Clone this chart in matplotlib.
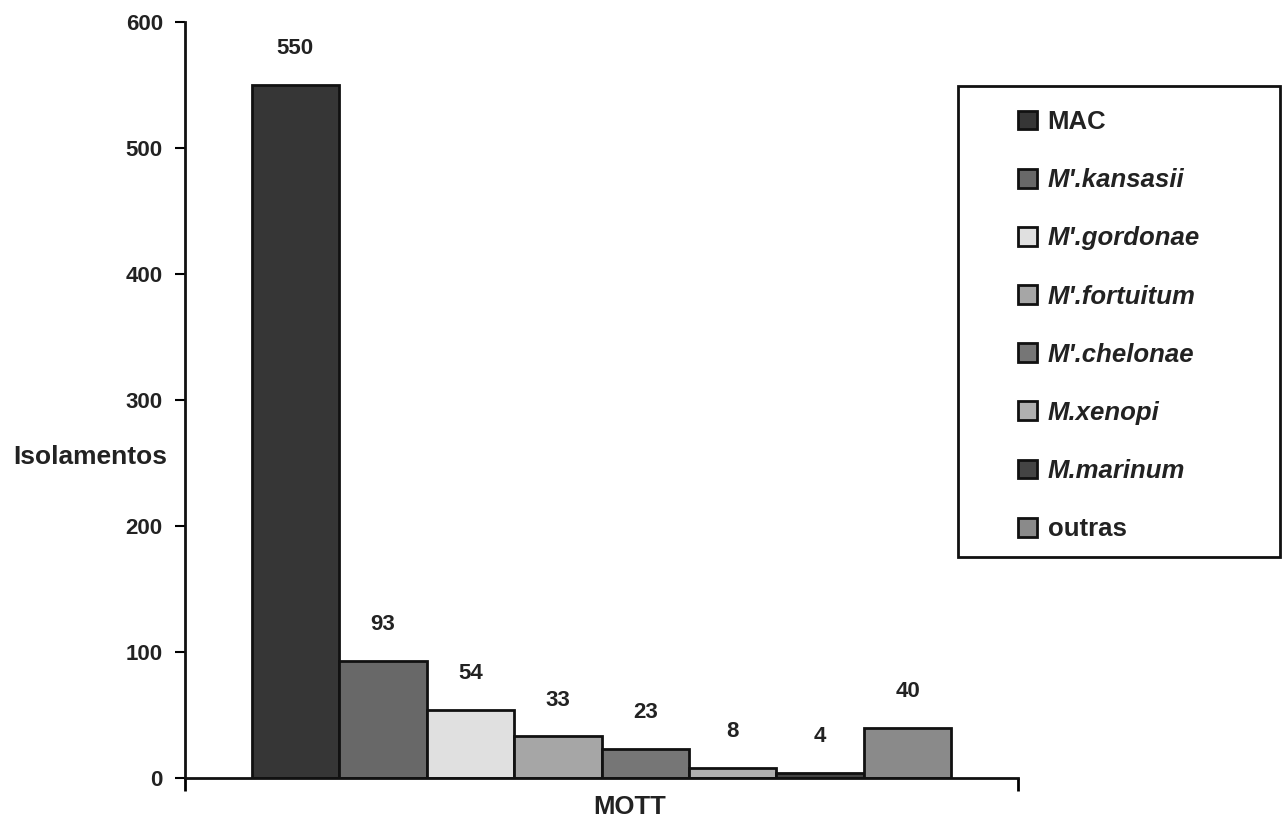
import matplotlib
matplotlib.use("Agg")
import matplotlib.pyplot as plt
from matplotlib.patches import Rectangle
import numpy as np

plt.rcParams['font.family'] = ['Liberation Sans', 'DejaVu Sans']

species = ["MAC", "M'.kansasii", "M'.gordonae", "M'.fortuitum",
           "M'.chelonae", "M.xenopi", "M.marinum", "outras"]
counts = [550, 93, 54, 33, 23, 8, 4, 40]
colors = ["#363636", "#686868", "#e0e0e0", "#a6a6a6",
          "#767676", "#b0b0b0", "#444444", "#8a8a8a"]
italic = [False, True, True, True, True, True, True, False]
category = "MOTT"
yticks = [0, 100, 200, 300, 400, 500, 600]

W, H = 1283, 821
fig = plt.figure(figsize=(W / 100, H / 100), dpi=100)
ax = fig.add_axes([185 / W, 1 - 778 / H, (1018 - 185) / W, (778 - 22) / H])

n = len(counts)
width = 0.8403 / n
offsets = (np.arange(n) - (n - 1) / 2) * width
handles = []
for off, val, col, name in zip(offsets, counts, colors, species):
    b = ax.bar(off, val, width=width, color=col, edgecolor="#111111",
               linewidth=2, label=name)
    handles.append(b)
    ax.annotate(str(val), (off, val), xytext=(0, 26), textcoords="offset points",
                ha="center", va="center", fontsize=16, fontweight="bold",
                color="#222222")

ax.set_xlim(-0.5, 0.5)
ax.set_ylim(0, 600)
ax.set_yticks(yticks)
ax.set_xticks([-0.5, 0.5])
ax.set_xticklabels(["", ""])
ax.tick_params(axis="x", direction="out", length=9, width=2)
ax.tick_params(axis="y", direction="out", length=7, width=1.5, labelsize=16,
               pad=9, labelcolor="#222222")
for lbl in ax.get_yticklabels():
    lbl.set_fontweight("bold")
for s in ["top", "right"]:
    ax.spines[s].set_visible(False)
for s in ["left", "bottom"]:
    ax.spines[s].set_linewidth(2)
    ax.spines[s].set_color("#111111")

fig.text(630 / W, 1 - 807 / H, category, ha="center", va="center",
         fontsize=18.5, fontweight="bold", color="#222222")
fig.text(90 / W, 1 - 457 / H, "Isolamentos", ha="center", va="center",
         fontsize=19, fontweight="bold", color="#222222")

# legend frame
fig.patches.append(Rectangle((958 / W, 1 - 557 / H), (1280 - 958) / W,
                             (557 - 86) / H, transform=fig.transFigure,
                             facecolor="white", edgecolor="#111111",
                             linewidth=2, zorder=0))
leg = fig.legend(handles=handles, labels=species, loc="upper left",
                 bbox_to_anchor=(1018 / W, 1 - 110 / H), fontsize=18.5,
                 frameon=False, handlelength=0.75, handleheight=0.75,
                 handletextpad=0.4, labelspacing=1.33, borderpad=0,
                 borderaxespad=0)
for t, it in zip(leg.get_texts(), italic):
    t.set_fontweight("bold")
    t.set_color("#222222")
    if it:
        t.set_fontstyle("italic")

fig.savefig("out.png", dpi=100)
